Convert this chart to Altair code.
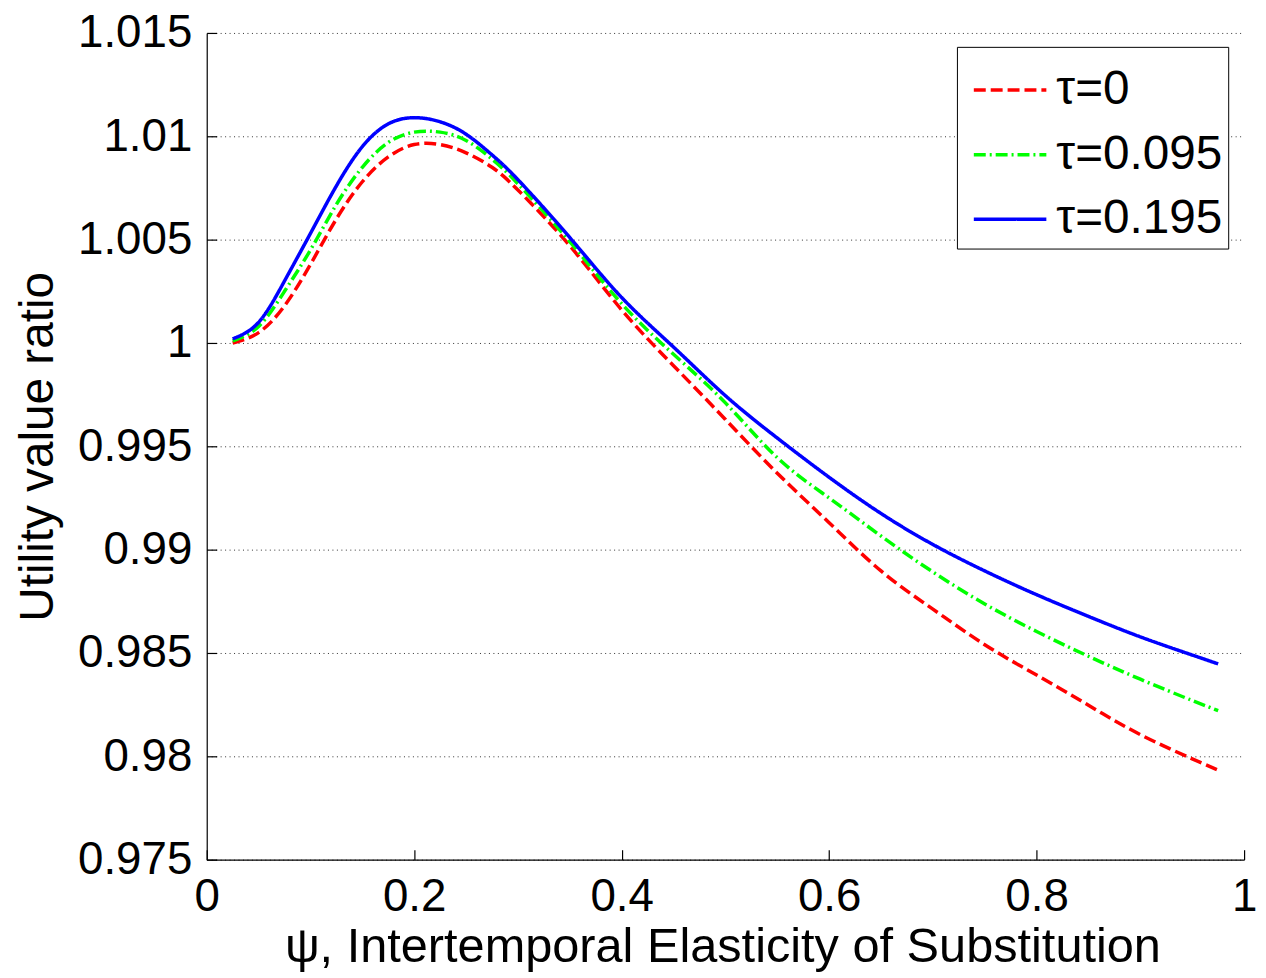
import altair as alt
import pandas as pd

psi = [0.025, 0.05, 0.075, 0.1, 0.125, 0.15, 0.175, 0.2, 0.225, 0.25, 0.275, 0.3,
       0.35, 0.4, 0.45, 0.5, 0.55, 0.6, 0.65, 0.7, 0.75, 0.8, 0.85, 0.9, 0.95, 0.975]

tau_0 = [1.0000, 1.0005, 1.0018, 1.0038, 1.0060, 1.0078, 1.0090, 1.0096, 1.0096, 1.0092,
         1.0085, 1.0074, 1.0047, 1.0016, 0.9989, 0.9963, 0.9937, 0.9913, 0.98897, 0.98712,
         0.98540, 0.98393, 0.98247, 0.98105, 0.97988, 0.97933]
tau_0095 = [1.0001, 1.0008, 1.0025, 1.0045, 1.0067, 1.0085, 1.0097, 1.0102, 1.0102, 1.0098,
            1.0089, 1.0077, 1.0049, 1.0019, 0.99945, 0.9971, 0.99445, 0.99250, 0.99066, 0.98892,
            0.98737, 0.98604, 0.98484, 0.98373, 0.98270, 0.98221]
tau_0195 = [1.0002, 1.0010, 1.0030, 1.0053, 1.0076, 1.0095, 1.0106, 1.0109, 1.0107, 1.0101,
            1.0091, 1.0079, 1.0051, 1.0022, 0.9998, 0.99745, 0.9954, 0.9935, 0.99175, 0.99025,
            0.98897, 0.98782, 0.98677, 0.98578, 0.98490, 0.98447]

series_names = ["τ=0", "τ=0.095", "τ=0.195"]
series_colors = ["#FF0000", "#00FF00", "#0000FF"]
series_dashes = [[12, 5], [12, 4, 2, 4], [1, 0]]

x_ticks = [0, 0.2, 0.4, 0.6, 0.8, 1]
y_ticks = [0.975, 0.98, 0.985, 0.99, 0.995, 1, 1.005, 1.01, 1.015]

rows = []
for name, vals in zip(series_names, [tau_0, tau_0095, tau_0195]):
    for x, v in zip(psi, vals):
        rows.append({"psi": x, "ratio": v, "series": name})
df = pd.DataFrame(rows)

FONT = "Liberation Sans"
W, H = 1044, 832

xscale = alt.Scale(domain=[0, 1], nice=False, zero=False)
yscale = alt.Scale(domain=[0.975, 1.015], nice=False, zero=False)

lines = alt.Chart(df).mark_line(strokeWidth=3.5, interpolate="natural").encode(
    x=alt.X("psi:Q", scale=xscale,
            axis=alt.Axis(values=x_ticks, format="~g", grid=False, ticks=False,
                          title="ψ, Intertemporal Elasticity of Substitution",
                          labelFontSize=46, labelPadding=51, labelBaseline="alphabetic",
                          labelFlush=False,
                          titleFontSize=49, titleFontWeight="normal",
                          titleBaseline="alphabetic", titleY=103, titleX=W / 2 - 3,
                          titleAnchor="middle", titleAlign="center",
                          domainColor="black", domainWidth=1.2)),
    y=alt.Y("ratio:Q", scale=yscale,
            axis=alt.Axis(values=y_ticks, format="~g", grid=True, ticks=False,
                          gridColor="#333333", gridDash=[1, 3.5], gridWidth=1,
                          title="Utility value ratio",
                          labelFontSize=46, labelPadding=15, labelFlush=False,
                          titleFontSize=48, titleFontWeight="normal",
                          titleAngle=-90, titleBaseline="alphabetic",
                          titleX=-155, titleY=H / 2, titleAlign="center",
                          domainColor="black", domainWidth=1.2)),
    color=alt.Color("series:N",
                    scale=alt.Scale(domain=series_names, range=series_colors),
                    legend=alt.Legend(title=None, orient="none", legendX=755, legendY=14,
                                      symbolType="stroke", symbolSize=5329,
                                      symbolStrokeWidth=3.5, symbolOffset=10,
                                      labelFontSize=48, labelFont=FONT, labelOffset=8,
                                      labelExpr="datum.label + '\u00a0\u2009'",
                                      rowPadding=2, padding=5,
                                      strokeColor="black", fillColor="white",
                                      labelLimit=400)),
    strokeDash=alt.StrokeDash("series:N",
                              scale=alt.Scale(domain=series_names, range=series_dashes),
                              legend=None),
)

tick_layer = alt.Chart(df).mark_line(opacity=0).encode(
    x=alt.X("psi:Q", scale=xscale,
            axis=alt.Axis(orient="top", offset=-H, values=x_ticks, labels=False,
                          grid=False, domain=False, ticks=True, tickSize=10,
                          tickColor="black", tickWidth=1.2, title=None)),
    y=alt.Y("ratio:Q", scale=yscale,
            axis=alt.Axis(orient="right", offset=-W, values=y_ticks, labels=False,
                          grid=False, domain=False, ticks=True, tickSize=10,
                          tickColor="black", tickWidth=1.2, title=None)),
)

chart = alt.layer(lines, tick_layer).resolve_axis(
    x="independent", y="independent"
).properties(
    width=W, height=H,
    autosize=alt.AutoSizeParams(type="none"),
    padding={"left": 200, "top": 22, "right": 14, "bottom": 116},
).configure(
    font=FONT,
    background="white",
).configure_axis(
    labelFont=FONT, titleFont=FONT, labelColor="black", titleColor="black",
).configure_view(
    stroke="transparent",
)

chart.save("out.html", embed_options={"renderer": "svg", "actions": False})
